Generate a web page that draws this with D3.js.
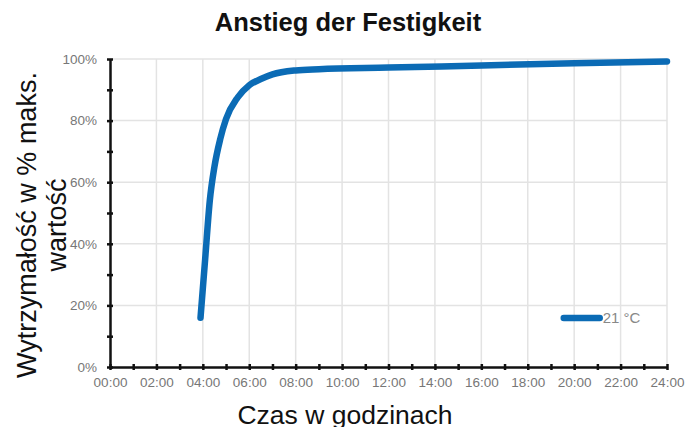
<!DOCTYPE html>
<html>
<head>
<meta charset="utf-8">
<script src="https://cdn.jsdelivr.net/npm/d3@7"></script>
<style>
  body { margin: 0; background: #fff; }
  text { font-family: "Liberation Sans", Arial, sans-serif; }
</style>
</head>
<body>
<div id="chart"></div>
<script>
// data
let hours = [3.9, 4.1, 4.3, 4.5, 4.75, 5.0, 5.5, 6.0, 6.5, 7.0, 8.0, 9.0, 12, 16, 20, 24];
let strength = [16, 35, 54, 65, 74, 80.5, 87.5, 91.5, 93.5, 95, 96.3, 96.7, 97.2, 97.9, 98.6, 99.2];
let xTickLabels = ["00:00", "02:00", "04:00", "06:00", "08:00", "10:00", "12:00",
    "14:00", "16:00", "18:00", "20:00", "22:00", "24:00"];
let yTickValues = [0, 20, 40, 60, 80, 100];
let seriesName = "21 °C";

let svgWidth = 686;
let svgHeight = 427;
let margin = { top: 59, right: 19, bottom: 60, left: 110 };
let chartWidth = svgWidth - margin.left - margin.right;
let chartHeight = svgHeight - margin.top - margin.bottom;

let svg = d3.select("#chart").append("svg")
    .attr("width", svgWidth)
    .attr("height", svgHeight);

let chartGroup = svg.append("g")
    .attr("transform", `translate(${margin.left}, ${margin.top})`);

let x = d3.scaleLinear().domain([0, 24]).range([0, chartWidth]);
let y = d3.scaleLinear().domain([0, 100]).range([chartHeight, 0]);

// grid
chartGroup.append("g")
    .selectAll("line.v")
    .data(d3.range(2, 25, 2))
    .enter().append("line")
    .attr("x1", d => x(d)).attr("x2", d => x(d))
    .attr("y1", 0).attr("y2", chartHeight)
    .attr("stroke", "#e3e3e3").attr("stroke-width", 1.5);

chartGroup.append("g")
    .selectAll("line.h")
    .data(yTickValues.slice(1))
    .enter().append("line")
    .attr("x1", 0).attr("x2", chartWidth)
    .attr("y1", d => y(d)).attr("y2", d => y(d))
    .attr("stroke", "#e3e3e3").attr("stroke-width", 1.5);

// axes
let bottomAxis = d3.axisBottom(x)
    .tickValues(d3.range(0, 25, 1))
    .tickSizeInner(3).tickSizeOuter(0)
    .tickFormat(d => d % 2 === 0 ? xTickLabels[d / 2] : "");
let leftAxis = d3.axisLeft(y)
    .tickValues(d3.range(0, 101, 10))
    .tickSizeInner(3).tickSizeOuter(0)
    .tickFormat(d => d % 20 === 0 ? d + "%" : "");

let xAxisG = chartGroup.append("g")
    .attr("transform", `translate(0, ${chartHeight})`)
    .call(bottomAxis);
let yAxisG = chartGroup.append("g").call(leftAxis);

[xAxisG, yAxisG].forEach(g => {
    g.select(".domain").attr("stroke", "#111").attr("stroke-width", 2.5);
    g.selectAll(".tick line").attr("stroke", "#111").attr("stroke-width", 2.5);
    g.selectAll(".tick text")
        .attr("fill", "#777")
        .style("font-size", "13.5px")
        .style("font-family", "'Liberation Sans', Arial, sans-serif");
});
// ticks cross the axis
xAxisG.selectAll(".tick line").attr("y1", -3).attr("y2", 3);
xAxisG.selectAll(".tick text").attr("dy", "0.71em").attr("y", 10);
yAxisG.selectAll(".tick line").attr("x1", -3).attr("x2", 3);
yAxisG.selectAll(".tick text").attr("x", -13);

// line
let data = hours.map((h, i) => ({ h: h, v: strength[i] }));
let line = d3.line()
    .x(d => x(d.h))
    .y(d => y(d.v))
    .curve(d3.curveMonotoneX);

chartGroup.append("path")
    .datum(data)
    .attr("d", line)
    .attr("fill", "none")
    .attr("stroke", "#0b6bb5")
    .attr("stroke-width", 6.5)
    .attr("stroke-linecap", "round")
    .attr("stroke-linejoin", "round");

// legend
let legend = chartGroup.append("g")
    .attr("transform", `translate(${x(19.55)}, ${y(15.9)})`);
legend.append("line")
    .attr("x1", 0).attr("x2", 36)
    .attr("y1", 0).attr("y2", 0)
    .attr("stroke", "#0b6bb5").attr("stroke-width", 6.5)
    .attr("stroke-linecap", "round");
legend.append("text")
    .attr("x", 39).attr("y", 5)
    .attr("fill", "#888")
    .style("font-size", "15px")
    .text(seriesName);

// title
svg.append("text")
    .attr("x", svgWidth / 2 + 5)
    .attr("y", 31)
    .attr("text-anchor", "middle")
    .style("font-size", "25.5px")
    .style("font-weight", "bold")
    .attr("fill", "#111")
    .text("Anstieg der Festigkeit");

// y label
let yLabel = svg.append("text")
    .attr("transform", `translate(36, ${margin.top + chartHeight / 2 + 12}) rotate(-90)`)
    .attr("text-anchor", "middle")
    .style("font-size", "27px")
    .attr("fill", "#111");
yLabel.append("tspan").attr("x", 0).attr("y", 0).text("Wytrzymałość w % maks.");
yLabel.append("tspan").attr("x", 0).attr("y", 30).text("wartość");

// x label
svg.append("text")
    .attr("x", svgWidth / 2 + 2)
    .attr("y", 424)
    .attr("text-anchor", "middle")
    .style("font-size", "26.5px")
    .attr("fill", "#111")
    .text("Czas w godzinach");
</script>
</body>
</html>
